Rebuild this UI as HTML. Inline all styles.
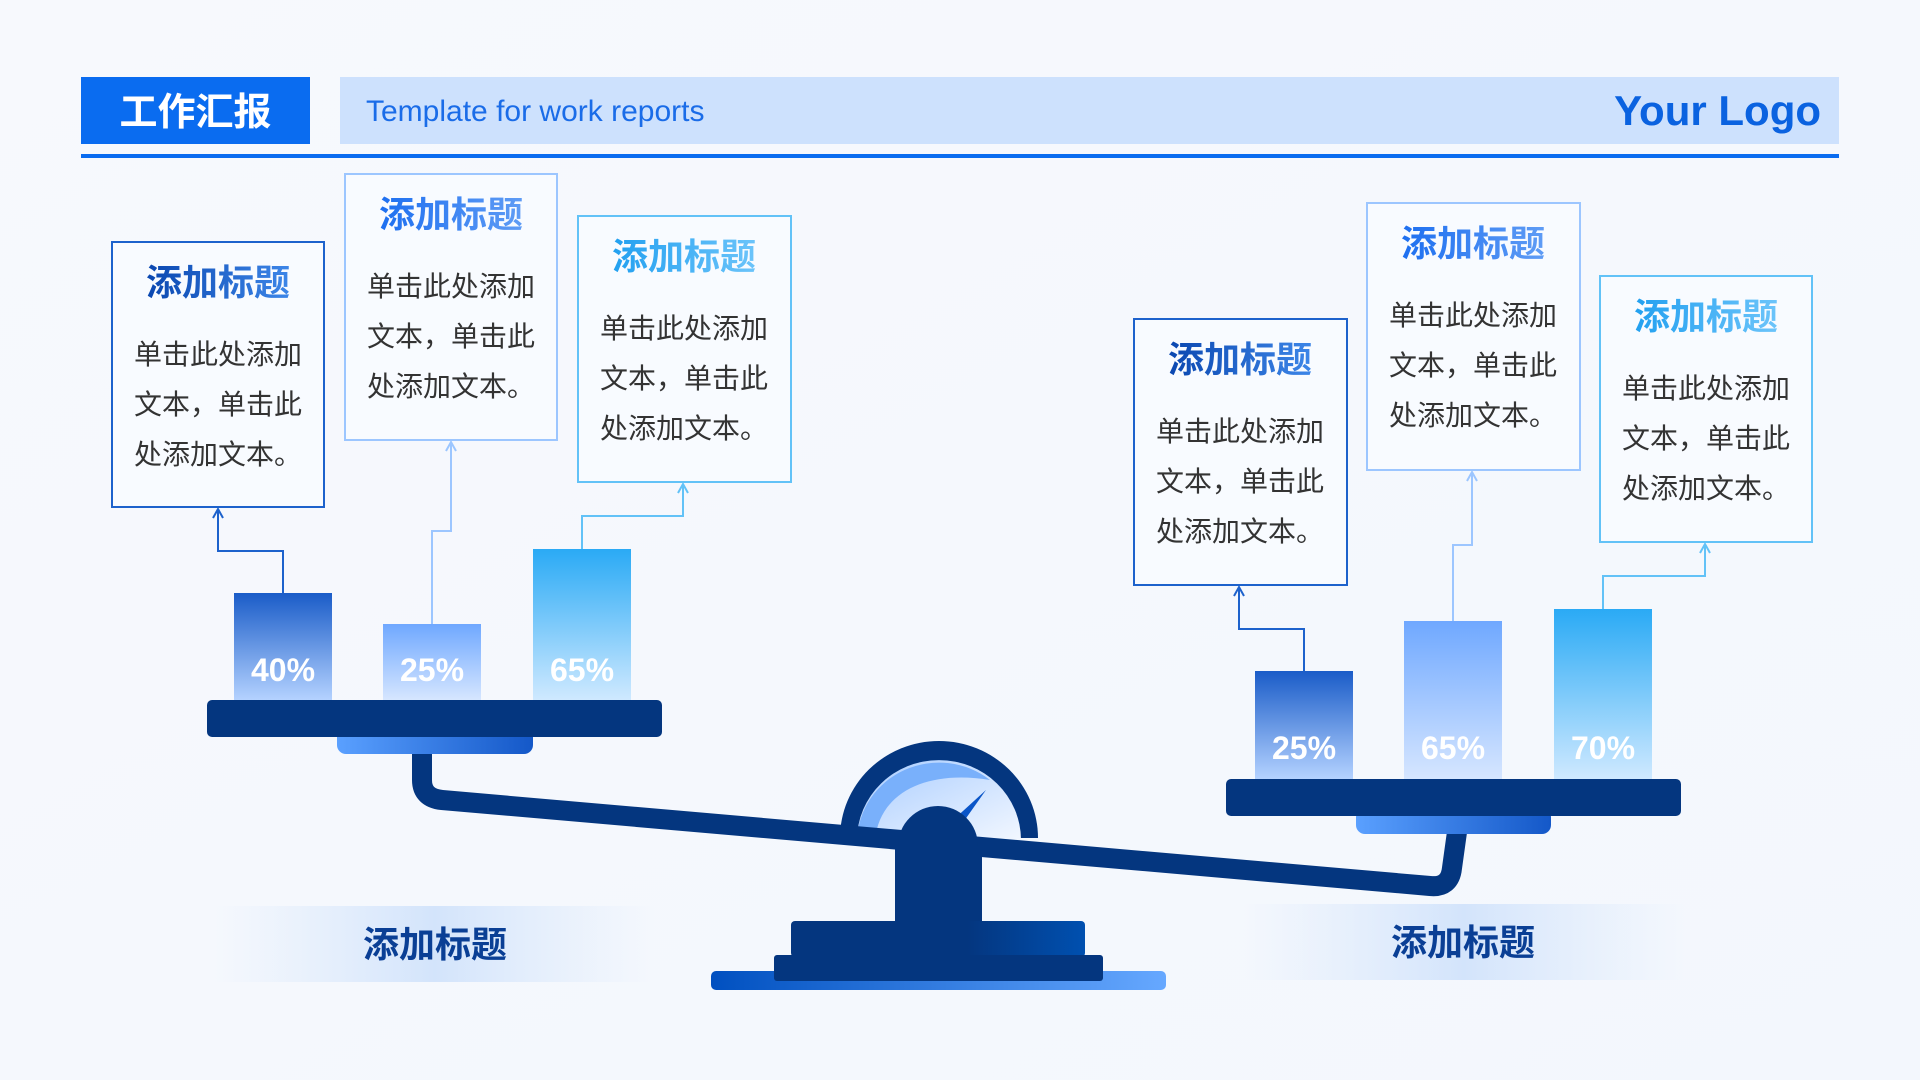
<!DOCTYPE html>
<html><head><meta charset="utf-8"><style>
html,body{margin:0;padding:0;width:1920px;height:1080px;overflow:hidden;background:#f5f8fd;}
svg{display:block}
text{font-family:"Liberation Sans","Noto Sans CJK SC",sans-serif;}
</style></head><body>
<svg width="1920" height="1080" viewBox="0 0 1920 1080" xmlns="http://www.w3.org/2000/svg">
<defs>
<linearGradient id="bg" x1="0" y1="0" x2="1" y2="1"><stop offset="0" stop-color="#f7f9fd"/><stop offset="1" stop-color="#f3f7fd"/></linearGradient>
<linearGradient id="b1" x1="0" y1="0" x2="0" y2="1"><stop offset="0" stop-color="#1a5cc8"/><stop offset="1" stop-color="#b4d2ff"/></linearGradient>
<linearGradient id="b2" x1="0" y1="0" x2="0" y2="1"><stop offset="0" stop-color="#6fa8ff"/><stop offset="1" stop-color="#d6e6ff"/></linearGradient>
<linearGradient id="b3" x1="0" y1="0" x2="0" y2="1"><stop offset="0" stop-color="#2aaaf5"/><stop offset="1" stop-color="#cfe9ff"/></linearGradient>
<linearGradient id="und" x1="0" y1="0" x2="1" y2="0"><stop offset="0" stop-color="#5aa0ff"/><stop offset="1" stop-color="#1458c8"/></linearGradient>
<linearGradient id="base" x1="0" y1="0" x2="1" y2="0"><stop offset="0" stop-color="#0050c0"/><stop offset="1" stop-color="#66a8ff"/></linearGradient>
<linearGradient id="base1" x1="0" y1="0" x2="1" y2="0"><stop offset="0.6" stop-color="#04367f"/><stop offset="1" stop-color="#0050b0"/></linearGradient>
<linearGradient id="dial" x1="0" y1="0" x2="1" y2="1"><stop offset="0" stop-color="#a8ccff"/><stop offset="1" stop-color="#f2f7ff"/></linearGradient>
<linearGradient id="band" x1="0" y1="0" x2="1" y2="0"><stop offset="0" stop-color="#dbe9fc" stop-opacity="0"/><stop offset="0.5" stop-color="#d3e4fb"/><stop offset="1" stop-color="#dbe9fc" stop-opacity="0"/></linearGradient>
<linearGradient id="t1" x1="0" y1="0" x2="1" y2="0"><stop offset="0" stop-color="#0a47b0"/><stop offset="1" stop-color="#3d86e8"/></linearGradient>
<linearGradient id="t2" x1="0" y1="0" x2="1" y2="0"><stop offset="0" stop-color="#1d6ff0"/><stop offset="1" stop-color="#5f9cf5"/></linearGradient>
<linearGradient id="t3" x1="0" y1="0" x2="1" y2="0"><stop offset="0" stop-color="#22a0f0"/><stop offset="1" stop-color="#6cc4fa"/></linearGradient>
</defs>
<rect width="1920" height="1080" fill="url(#bg)"/>
<rect x="81" y="77" width="229" height="67" fill="#0a6cf0"/>
<text x="195.5" y="125" font-size="38" font-weight="bold" fill="#fff" text-anchor="middle">工作汇报</text>
<rect x="340" y="77" width="1499" height="67" fill="#cde1fd"/>
<text x="366" y="121" font-size="30" fill="#1a6ce8">Template for work reports</text>
<text x="1821" y="125" font-size="42" font-weight="bold" fill="#0a62e0" text-anchor="end">Your Logo</text>
<rect x="81" y="154" width="1758" height="4" fill="#0a6cf0"/>

<g font-size="28" fill="#333" text-anchor="middle">
<rect x="112" y="242" width="212" height="265" fill="#f8fbff" stroke="#1d62cc" stroke-width="2"/>
<text x="218" y="295" font-size="36" font-weight="bold" fill="url(#t1)">添加标题</text>
<text x="218" y="364">单击此处添加</text><text x="218" y="414">文本，单击此</text><text x="218" y="464">处添加文本。</text>

<rect x="345" y="174" width="212" height="266" fill="#f8fbff" stroke="#9cc6ff" stroke-width="2"/>
<text x="451" y="227" font-size="36" font-weight="bold" fill="url(#t2)">添加标题</text>
<text x="451" y="296">单击此处添加</text><text x="451" y="346">文本，单击此</text><text x="451" y="396">处添加文本。</text>

<rect x="578" y="216" width="213" height="266" fill="#f8fbff" stroke="#62c2f7" stroke-width="2"/>
<text x="684" y="269" font-size="36" font-weight="bold" fill="url(#t3)">添加标题</text>
<text x="684" y="338">单击此处添加</text><text x="684" y="388">文本，单击此</text><text x="684" y="438">处添加文本。</text>

<rect x="1134" y="319" width="213" height="266" fill="#f8fbff" stroke="#1d62cc" stroke-width="2"/>
<text x="1240" y="372" font-size="36" font-weight="bold" fill="url(#t1)">添加标题</text>
<text x="1240" y="441">单击此处添加</text><text x="1240" y="491">文本，单击此</text><text x="1240" y="541">处添加文本。</text>

<rect x="1367" y="203" width="213" height="267" fill="#f8fbff" stroke="#9cc6ff" stroke-width="2"/>
<text x="1473" y="256" font-size="36" font-weight="bold" fill="url(#t2)">添加标题</text>
<text x="1473" y="325">单击此处添加</text><text x="1473" y="375">文本，单击此</text><text x="1473" y="425">处添加文本。</text>

<rect x="1600" y="276" width="212" height="266" fill="#f8fbff" stroke="#62c2f7" stroke-width="2"/>
<text x="1706" y="329" font-size="36" font-weight="bold" fill="url(#t3)">添加标题</text>
<text x="1706" y="398">单击此处添加</text><text x="1706" y="448">文本，单击此</text><text x="1706" y="498">处添加文本。</text>
</g>

<g fill="none" stroke-width="2">
<path d="M283 593 V551 H218 V509" stroke="#1d62cc"/><path d="M213 518 L218 509 L223 518" stroke="#1d62cc"/>
<path d="M432 624 V531 H451 V442" stroke="#9cc6ff"/><path d="M446 451 L451 442 L456 451" stroke="#9cc6ff"/>
<path d="M582 549 V516 H683 V484" stroke="#62c2f7"/><path d="M678 493 L683 484 L688 493" stroke="#62c2f7"/>
<path d="M1304 671 V629 H1239 V587" stroke="#1d62cc"/><path d="M1234 596 L1239 587 L1244 596" stroke="#1d62cc"/>
<path d="M1453 621 V545 H1472 V472" stroke="#9cc6ff"/><path d="M1467 481 L1472 472 L1477 481" stroke="#9cc6ff"/>
<path d="M1603 609 V576 H1705 V544" stroke="#62c2f7"/><path d="M1700 553 L1705 544 L1710 553" stroke="#62c2f7"/>
</g>

<path d="M840 838 A99 97 0 0 1 1038 838 Z" fill="#04367f"/>
<path d="M857 840 A82 80 0 0 1 1021 840 Z" fill="url(#dial)"/>
<path d="M857 840 A82 80 0 0 1 990 780 C930 770 880 790 875 840 Z" fill="#79b0fb"/>
<polygon points="940,832 986,790 952,838" fill="#0a55c8"/>

<path d="M422 752 V780 Q422 798 442 800 L1430 886 Q1450 888 1452 868 L1457 832" fill="none" stroke="#04367f" stroke-width="20" stroke-linejoin="round"/>

<circle cx="938" cy="846" r="40" fill="#04367f"/>
<rect x="895" y="846" width="87" height="78" fill="#04367f"/>
<rect x="791" y="921" width="294" height="36" rx="4" fill="url(#base1)"/>
<rect x="711" y="971" width="455" height="19" rx="5" fill="url(#base)"/>
<rect x="774" y="955" width="329" height="26" rx="3" fill="#04367f"/>

<rect x="337" y="728" width="196" height="26" rx="9" fill="url(#und)"/>
<rect x="234" y="593" width="98" height="107" fill="url(#b1)"/>
<rect x="383" y="624" width="98" height="76" fill="url(#b2)"/>
<rect x="533" y="549" width="98" height="151" fill="url(#b3)"/>
<rect x="207" y="700" width="455" height="37" rx="5" fill="#04367f"/>
<rect x="1356" y="808" width="195" height="26" rx="9" fill="url(#und)"/>
<rect x="1255" y="671" width="98" height="108" fill="url(#b1)"/>
<rect x="1404" y="621" width="98" height="158" fill="url(#b2)"/>
<rect x="1554" y="609" width="98" height="170" fill="url(#b3)"/>
<rect x="1226" y="779" width="455" height="37" rx="5" fill="#04367f"/>
<g font-size="32" font-weight="bold" fill="#fff" text-anchor="middle">
<text x="283" y="681">40%</text><text x="432" y="681">25%</text><text x="582" y="681">65%</text>
<text x="1304" y="759">25%</text><text x="1453" y="759">65%</text><text x="1603" y="759">70%</text>
</g>

<rect x="214" y="906" width="441" height="76" fill="url(#band)"/>
<text x="435" y="957" font-size="36" font-weight="bold" fill="#0a3f95" text-anchor="middle">添加标题</text>
<rect x="1243" y="904" width="441" height="76" fill="url(#band)"/>
<text x="1463" y="955" font-size="36" font-weight="bold" fill="#0a3f95" text-anchor="middle">添加标题</text>
</svg>
</body></html>
